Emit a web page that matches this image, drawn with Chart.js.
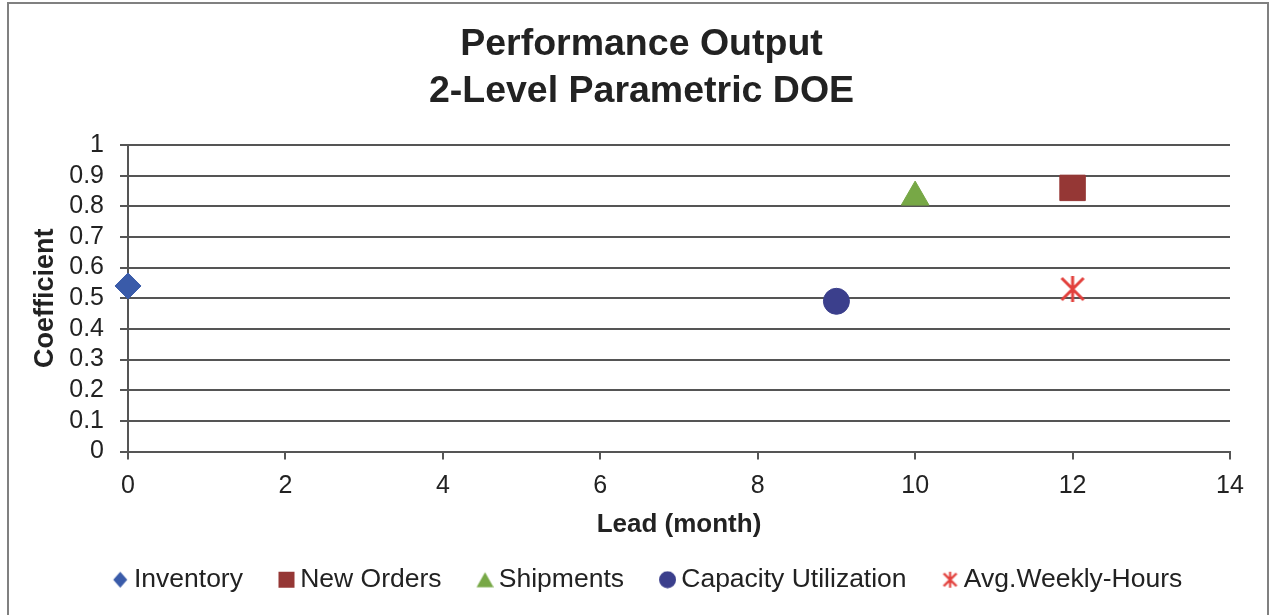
<!DOCTYPE html>
<html>
<head>
<meta charset="utf-8">
<script src="https://cdn.jsdelivr.net/npm/chart.js@4.4.1/dist/chart.umd.min.js"></script>
<style>
body { margin: 0; background: #fff; }
</style>
</head>
<body>
<canvas id="doeChart" width="1274" height="615"></canvas>
<script>
var seriesNames = ["Inventory", "New Orders", "Shipments", "Capacity Utilization", "Avg.Weekly-Hours"];
var leadMonths = [0, 12, 10, 9, 12];
var coefficients = [0.54, 0.86, 0.83, 0.49, 0.53];
var seriesColors = ['#3a5ba9', '#953735', '#77a846', '#3b3f8c', '#e2403c'];
var titleLines = ['Performance Output', '2-Level Parametric DOE'];

var gridGray = '#555555';
var fontFamily = "'Liberation Sans', Arial, sans-serif";

// asterisk marker (X with a vertical bar), like the excel "*" marker
function starImage(size, lw, color) {
    var c = document.createElement('canvas');
    c.width = size; c.height = size;
    var g = c.getContext('2d');
    var m = lw / 2 + 0.5;
    g.strokeStyle = color;
    g.lineWidth = lw;
    g.beginPath();
    g.moveTo(m, m); g.lineTo(size - m, size - m);
    g.moveTo(size - m, m); g.lineTo(m, size - m);
    g.moveTo(size / 2, 0); g.lineTo(size / 2, size);
    g.stroke();
    return c;
}

// small legend icons, marker drawn right of the image centre so the
// text sits close to it
function legendIcon(kind, color) {
    var W = 36, H = 18;
    var c = document.createElement('canvas');
    c.width = W; c.height = H;
    var g = c.getContext('2d');
    var cx = 27.5, cy = 9;
    g.fillStyle = color;
    g.beginPath();
    if (kind === 'diamond') {
        g.moveTo(cx, cy - 8); g.lineTo(cx + 7, cy); g.lineTo(cx, cy + 8); g.lineTo(cx - 7, cy);
        g.closePath(); g.fill();
    } else if (kind === 'square') {
        g.fillRect(cx - 8, cy - 8, 16, 16);
    } else if (kind === 'triangle') {
        g.moveTo(cx, cy - 7.5); g.lineTo(cx + 8.5, cy + 7.5); g.lineTo(cx - 8.5, cy + 7.5);
        g.closePath(); g.fill();
    } else if (kind === 'circle') {
        g.arc(cx, cy, 8.5, 0, Math.PI * 2); g.fill();
    } else {
        g.drawImage(starImage(16, 2.2, color), cx - 8, cy - 8);
    }
    return c;
}

var pointStyles = ['rectRot', 'rect', 'triangle', 'circle', starImage(26, 3, seriesColors[4])];
var pointSizes = [13, 18, 16, 13, 13];
var legendKinds = ['diamond', 'square', 'triangle', 'circle', 'star'];

var datasets = seriesNames.map(function (name, i) {
    return {
        label: name,
        data: [{x: leadMonths[i], y: coefficients[i]}],
        pointStyle: pointStyles[i],
        pointRadius: pointSizes[i],
        pointHoverRadius: pointSizes[i],
        backgroundColor: seriesColors[i],
        borderColor: seriesColors[i],
        borderWidth: 1,
        clip: false
    };
});

var chartFrame = {
    id: 'chartFrame',
    beforeDraw: function (chart) {
        var ctx = chart.ctx;
        ctx.save();
        ctx.fillStyle = '#fff';
        ctx.fillRect(0, 0, chart.width, chart.height);
        ctx.strokeStyle = '#808080';
        ctx.lineWidth = 2;
        ctx.strokeRect(8, 3, 1260, 700);
        ctx.restore();
    }
};

var doeChart = new Chart(document.getElementById('doeChart'), {
    type: 'scatter',
    data: { datasets: datasets },
    plugins: [chartFrame],
    options: {
        responsive: false,
        animation: false,
        devicePixelRatio: 1,
        layout: {
            padding: { left: 53, right: 44, top: 0, bottom: 12 }
        },
        scales: {
            x: {
                type: 'linear',
                min: 0,
                max: 14,
                afterFit: function (scale) { scale.height = 91; },
                ticks: {
                    stepSize: 2,
                    color: '#222',
                    padding: 12,
                    font: { family: fontFamily, size: 25 }
                },
                grid: {
                    drawOnChartArea: false,
                    drawTicks: true,
                    tickLength: 8,
                    color: gridGray,
                    lineWidth: 2
                },
                border: { display: true, color: gridGray, width: 2 },
                title: {
                    display: true,
                    text: 'Lead (month)',
                    color: '#222',
                    padding: { top: 0, bottom: 2 },
                    font: { family: fontFamily, size: 26, weight: 'bold' }
                }
            },
            y: {
                min: 0,
                max: 1,
                afterFit: function (scale) { scale.width = 75; },
                ticks: {
                    stepSize: 0.1,
                    autoSkip: false,
                    color: '#222',
                    padding: 16,
                    font: { family: fontFamily, size: 25 },
                    callback: function (v) { return String(Math.round(v * 10) / 10); }
                },
                grid: {
                    tickLength: 8,
                    color: gridGray,
                    lineWidth: 2
                },
                border: { display: true, color: gridGray, width: 2 },
                title: {
                    display: true,
                    text: 'Coefficient',
                    color: '#222',
                    padding: { top: -24, bottom: 0 },
                    font: { family: fontFamily, size: 27, weight: 'bold' }
                }
            }
        },
        plugins: {
            title: {
                display: true,
                text: titleLines,
                color: '#222',
                padding: { top: 21, bottom: 30 },
                font: { family: fontFamily, size: 37.5, weight: 'bold', lineHeight: 1.253 }
            },
            legend: {
                display: true,
                position: 'bottom',
                labels: {
                    usePointStyle: true,
                    pointStyleWidth: 20,
                    padding: 24,
                    color: '#222',
                    font: { family: fontFamily, size: 26.5 },
                    generateLabels: function (chart) {
                        var items = Chart.defaults.plugins.legend.labels.generateLabels(chart);
                        items.forEach(function (item, i) {
                            item.pointStyle = legendIcon(legendKinds[i], seriesColors[i]);
                        });
                        return items;
                    }
                }
            },
            tooltip: { enabled: false }
        }
    }
});
</script>
</body>
</html>
